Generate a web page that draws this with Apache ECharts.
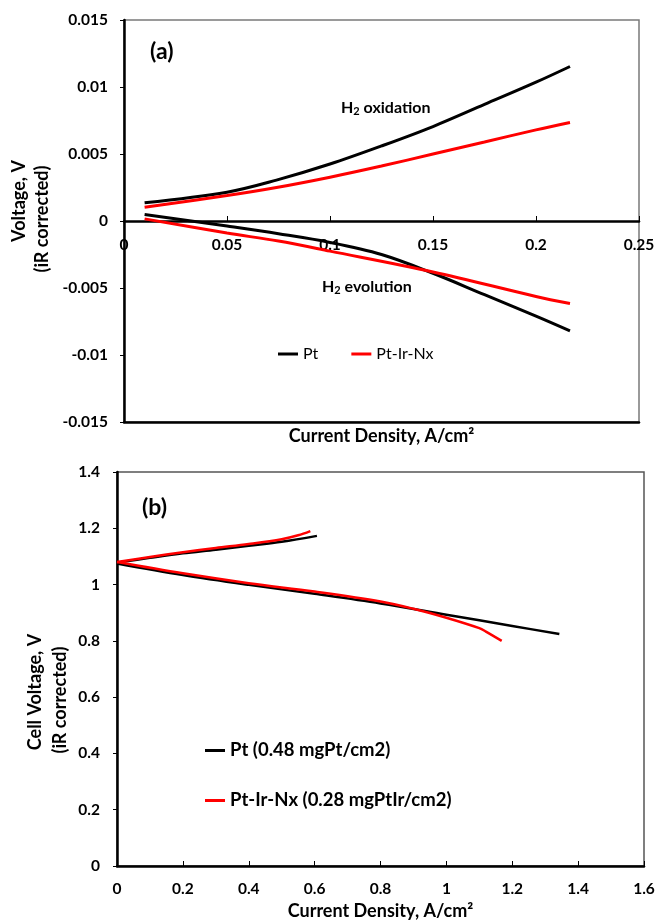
<!DOCTYPE html>
<html>
<head>
<meta charset="utf-8">
<script src="https://cdn.jsdelivr.net/npm/echarts@6/dist/echarts.min.js"></script>
<style>
html,body{margin:0;padding:0;background:#fff;}
#c{width:660px;height:921px;}
</style>
</head>
<body>
<div id="c"></div>
<script>
// ---- Panel (a) data ----
var aOxX  = [0.01, 0.05, 0.074, 0.1, 0.125, 0.15, 0.175, 0.2, 0.2165];
var aPtOx = [0.00136, 0.00215, 0.00305, 0.00425, 0.0056, 0.00705, 0.0087, 0.01036, 0.01153];
var aIrOx = [0.00103, 0.0019, 0.0025, 0.00327, 0.0041, 0.0050, 0.0059, 0.0068, 0.00735];
var aPtEvX = [0.01, 0.05, 0.075, 0.1, 0.125, 0.15, 0.175, 0.2, 0.2165];
var aPtEv  = [0.00049, -0.00038, -0.00095, -0.0016, -0.0025, -0.0039, -0.0055, -0.0071, -0.0082];
var aIrEvX = [0.01, 0.05, 0.075, 0.1, 0.15, 0.2, 0.2165];
var aIrEv  = [0.00016, -0.0009, -0.0015, -0.00225, -0.0038, -0.00563, -0.00616];

// ---- Panel (b) data ----
var bPtUpX = [0, 0.1, 0.2, 0.3, 0.4, 0.5, 0.607];
var bPtUpY = [1.078, 1.095, 1.111, 1.124, 1.138, 1.152, 1.173];
var bIrUpX = [0, 0.1, 0.2, 0.3, 0.4, 0.5, 0.55, 0.587];
var bIrUpY = [1.08, 1.098, 1.115, 1.13, 1.144, 1.161, 1.175, 1.19];
var bPtLoX = [0, 0.2, 0.4, 0.6, 0.8, 1.0, 1.2, 1.343];
var bPtLoY = [1.075, 1.034, 0.999, 0.967, 0.933, 0.893, 0.853, 0.824];
var bIrLoX = [0, 0.2, 0.4, 0.6, 0.8, 0.9, 1.0, 1.1, 1.12, 1.168];
var bIrLoY = [1.08, 1.04, 1.005, 0.975, 0.94, 0.914, 0.882, 0.845, 0.833, 0.80];

var aNames = ['Pt', 'Pt-Ir-Nx'];
var bNames = ['Pt (0.48 mgPt/cm2)', 'Pt-Ir-Nx (0.28 mgPtIr/cm2)'];

function pairs(xs, ys) { return xs.map(function (x, i) { return [x, ys[i]]; }); }

var FONT = 'Lato';
var tickLbl = { fontFamily: FONT, fontWeight: 'bold', fontSize: 15.5, color: '#000' };

var chart = echarts.init(document.getElementById('c'), null, { renderer: 'canvas' });

function line(name, data, color, xi, yi, w) {
  return {
    type: 'line', name: name, data: data, xAxisIndex: xi, yAxisIndex: yi,
    showSymbol: false, symbol: 'none', smooth: 0.35, animation: false,
    lineStyle: { color: color, width: w }, itemStyle: { color: color }
  };
}

var subRich = {
  a: { fontFamily: FONT, fontWeight: 'bold', fontSize: 16, lineHeight: 18, fill: '#000' },
  s: { fontFamily: FONT, fontWeight: 'bold', fontSize: 11, lineHeight: 10, verticalAlign: 'bottom', fill: '#000' }
};
var titleFont = 'bold 18px Lato';

var option = {
  animation: false,
  backgroundColor: '#fff',
  grid: [
    { left: 124, top: 20, width: 515, height: 402, show: true, borderColor: '#7a7a7a', borderWidth: 1.5, containLabel: false },
    { left: 117, top: 472, width: 527, height: 395, show: true, borderColor: '#555', borderWidth: 1.5, containLabel: false }
  ],
  xAxis: [
    // (a) bottom frame line
    { type: 'value', gridIndex: 0, position: 'bottom', min: 0, max: 0.25, interval: 0.05,
      axisLine: { onZero: false, lineStyle: { color: '#000', width: 2.5 } },
      axisTick: { show: false }, axisLabel: { show: false }, splitLine: { show: false } },
    // (a) labelled axis, shifted to y = 0 after layout
    { type: 'value', gridIndex: 0, position: 'top', offset: 0, min: 0, max: 0.25, interval: 0.05,
      axisLine: { onZero: false, lineStyle: { color: '#000', width: 2.5 } },
      axisTick: { show: true, inside: false, length: 5, lineStyle: { color: '#000', width: 1 } },
      axisLabel: Object.assign({ inside: true, margin: 16, showMinLabel: true, showMaxLabel: true }, tickLbl),
      splitLine: { show: false } },
    // (b)
    { type: 'value', gridIndex: 1, position: 'bottom', min: 0, max: 1.6, interval: 0.2,
      axisLine: { onZero: false, lineStyle: { color: '#000', width: 2.5 } },
      axisTick: { show: true, inside: true, length: 5, lineStyle: { color: '#000', width: 1 } },
      axisLabel: Object.assign({ margin: 15, showMinLabel: true, showMaxLabel: true }, tickLbl),
      splitLine: { show: false },
      name: 'Current Density, A/cm²', nameLocation: 'middle', nameGap: 36,
      nameTextStyle: { fontFamily: FONT, fontWeight: 'bold', fontSize: 18, color: '#000' } }
  ],
  yAxis: [
    { type: 'value', gridIndex: 0, min: -0.015, max: 0.015, interval: 0.005,
      axisLine: { onZero: false, lineStyle: { color: '#000', width: 2.5 } },
      axisTick: { show: true, inside: false, length: 4, lineStyle: { color: '#000', width: 1 } },
      axisLabel: Object.assign({ margin: 16, formatter: function (v) { return String(parseFloat(v.toFixed(4))); } }, tickLbl),
      splitLine: { show: false } },
    { type: 'value', gridIndex: 1, min: 0, max: 1.4, interval: 0.2,
      axisLine: { onZero: false, lineStyle: { color: '#000', width: 2.5 } },
      axisTick: { show: true, inside: false, length: 4, lineStyle: { color: '#000', width: 1 } },
      axisLabel: Object.assign({ margin: 17, formatter: function (v) { return String(parseFloat(v.toFixed(2))); } }, tickLbl),
      splitLine: { show: false } }
  ],
  legend: [
    { data: aNames, left: 278, top: 346, orient: 'horizontal', itemGap: 33, padding: 0,
      icon: 'rect', itemWidth: 20, itemHeight: 3,
      textStyle: { fontFamily: FONT, fontSize: 16, color: '#000' } },
    { data: bNames, left: 205, top: 741, orient: 'vertical', itemGap: 31, padding: 0,
      icon: 'rect', itemWidth: 20, itemHeight: 3,
      textStyle: { fontFamily: FONT, fontWeight: 'bold', fontSize: 18.5, color: '#000' } }
  ],
  series: [
    line(aNames[0], pairs(aOxX, aPtOx), '#000000', 1, 0, 3),
    line(aNames[1], pairs(aOxX, aIrOx), '#ff0000', 1, 0, 3),
    line(aNames[0], pairs(aPtEvX, aPtEv), '#000000', 1, 0, 3),
    line(aNames[1], pairs(aIrEvX, aIrEv), '#ff0000', 1, 0, 3),
    line(bNames[0], pairs(bPtUpX, bPtUpY), '#000000', 2, 1, 2.5),
    line(bNames[0], pairs(bPtLoX, bPtLoY), '#000000', 2, 1, 2.5),
    line(bNames[1], pairs(bIrUpX, bIrUpY), '#ff0000', 2, 1, 2.5),
    line(bNames[1], pairs(bIrLoX, bIrLoY), '#ff0000', 2, 1, 2.5)
  ],
  graphic: [
    { type: 'text', left: 150, top: 40, style: { text: '(a)', font: 'bold 23px Lato', fill: '#000' } },
    { type: 'text', left: 142, top: 496, style: { text: '(b)', font: 'bold 23px Lato', fill: '#000' } },
    { type: 'text', left: 341, top: 100, style: { text: '{a|H}{s|2}{a| oxidation}', rich: subRich } },
    { type: 'text', left: 322, top: 279, style: { text: '{a|H}{s|2}{a| evolution}', rich: subRich } },
    { type: 'text', x: 381.5, y: 436, style: { text: 'Current Density, A/cm²', font: titleFont, fill: '#000', textAlign: 'center', textVerticalAlign: 'middle' } },
    { type: 'text', x: 19, y: 201, rotation: Math.PI / 2, style: { text: 'Voltage, V', font: titleFont, fill: '#000', textAlign: 'center', textVerticalAlign: 'middle' } },
    { type: 'text', x: 42, y: 219, rotation: Math.PI / 2, style: { text: '(iR corrected)', font: titleFont, fill: '#000', textAlign: 'center', textVerticalAlign: 'middle' } },
    { type: 'text', x: 35, y: 692, rotation: Math.PI / 2, style: { text: 'Cell Voltage, V', font: titleFont, fill: '#000', textAlign: 'center', textVerticalAlign: 'middle' } },
    { type: 'text', x: 60, y: 700, rotation: Math.PI / 2, style: { text: '(iR corrected)', font: titleFont, fill: '#000', textAlign: 'center', textVerticalAlign: 'middle' } }
  ]
};
chart.setOption(option);

// move panel (a)'s labelled x axis down to the y = 0 line, using the library's own scale
var yZero = chart.convertToPixel({ yAxisIndex: 0 }, 0);
var yTop = chart.convertToPixel({ yAxisIndex: 0 }, 0.015);
chart.setOption({ xAxis: [{}, { offset: -(yZero - yTop) }, {}] });
</script>
</body>
</html>
